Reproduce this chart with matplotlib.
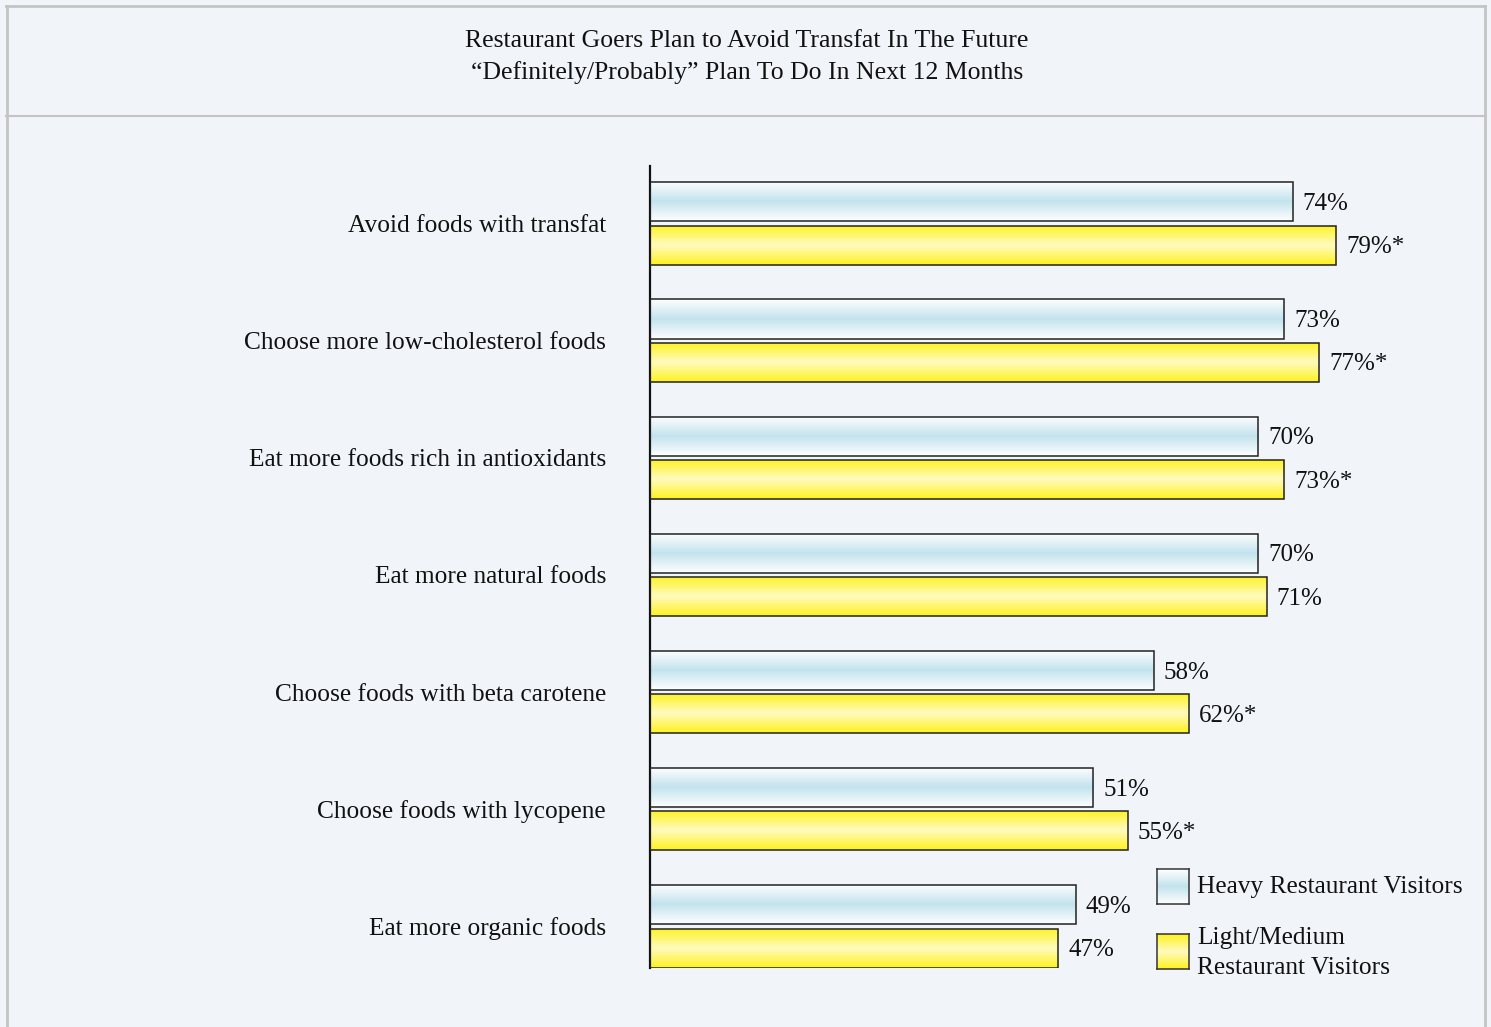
import matplotlib
matplotlib.use("Agg")
import matplotlib.pyplot as plt
import numpy as np
from matplotlib.colors import LinearSegmentedColormap
from matplotlib.lines import Line2D

categories = ["Avoid foods with transfat", "Choose more low-cholesterol foods",
              "Eat more foods rich in antioxidants", "Eat more natural foods",
              "Choose foods with beta carotene", "Choose foods with lycopene",
              "Eat more organic foods"]
heavy = [74, 73, 70, 70, 58, 51, 49]
light = [79, 77, 73, 71, 62, 55, 47]
heavy_labels = ["74%", "73%", "70%", "70%", "58%", "51%", "49%"]
light_labels = ["79%*", "77%*", "73%*", "71%", "62%*", "55%*", "47%"]
series_names = ["Heavy Restaurant Visitors", "Light/Medium\nRestaurant Visitors"]
title_lines = ["Restaurant Goers Plan to Avoid Transfat In The Future",
               "\u201cDefinitely/Probably\u201d Plan To Do In Next 12 Months"]

FONT = "Liberation Serif"
BG = "#f1f4f9"
W, H = 1491, 1027
fig = plt.figure(figsize=(W / 100, H / 100), dpi=100)
fig.patch.set_facecolor(BG)

# frame
grey = "#c4c4c4"
fig.add_artist(Line2D([6.5 / W, 6.5 / W], [0, 1 - 6 / H], color=grey, lw=2, transform=fig.transFigure))
fig.add_artist(Line2D([1484.5 / W, 1484.5 / W], [0, 1 - 6 / H], color=grey, lw=2, transform=fig.transFigure))
fig.add_artist(Line2D([6 / W, 1485 / W], [1 - 6 / H, 1 - 6 / H], color=grey, lw=2, transform=fig.transFigure))
fig.add_artist(Line2D([6 / W, 1485 / W], [1 - 116 / H, 1 - 116 / H], color=grey, lw=1.5, transform=fig.transFigure))

for i, t in enumerate(title_lines):
    fig.text(747 / W, 1 - (41 + 32 * i) / H, t, ha="center", va="center",
             fontsize=18.5, family=FONT, color="#111111")

blue_cmap = LinearSegmentedColormap.from_list("b", ["#ffffff", "#c3e3ee", "#ffffff"])
yel_cmap = LinearSegmentedColormap.from_list("y", ["#fff21e", "#fffbc0", "#fff21e"])

ax = fig.add_axes([650 / W, 1 - 968 / H, 695 / W, 802 / H])
ax.set_facecolor("none")
y = np.arange(len(categories))
off = 0.185
bh = 0.333
grad = np.linspace(0, 1, 256).reshape(-1, 1)

def gbars(vals, ypos, cmap):
    bars = ax.barh(ypos, vals, height=bh, facecolor="none", edgecolor="#222222", lw=1.1, zorder=3)
    for b in bars:
        x0, y0, w, h = b.get_x(), b.get_y(), b.get_width(), b.get_height()
        im = ax.imshow(grad, cmap=cmap, aspect="auto", extent=(x0, x0 + w, y0 + h, y0),
                       zorder=2, interpolation="bilinear")
        im.set_clip_path(b)
    return bars

bh_bars = gbars(heavy, y - off, blue_cmap)
bl_bars = gbars(light, y + off, yel_cmap)
ax.set_xlim(0, 80)
ax.set_ylim(6 + 0.355, -0.491)

for bars, labs in ((bh_bars, heavy_labels), (bl_bars, light_labels)):
    for b, lab in zip(bars, labs):
        ax.annotate(lab, (b.get_width(), b.get_y() + b.get_height() / 2), xytext=(7.2, -1.5),
                    textcoords="offset points", va="center", ha="left", fontsize=18,
                    family=FONT, color="#111111")

ax.set_yticks(y)
ax.set_yticklabels(categories, fontsize=18.3, family=FONT, color="#111111")
ax.tick_params(axis="y", length=0, pad=31.7)
ax.set_xticks([])
for s in ["top", "right", "bottom"]:
    ax.spines[s].set_visible(False)
ax.spines["left"].set_linewidth(1.6)
ax.spines["left"].set_color("#111111")

# legend
leg_items = [(869, blue_cmap, series_names[0], 887), (934, yel_cmap, series_names[1], 953)]
for top, cmap, name, ty in leg_items:
    lax = fig.add_axes([1157 / W, 1 - (top + 35) / H, 32 / W, 35 / H])
    lax.imshow(grad, cmap=cmap, aspect="auto", extent=(0, 1, 1, 0), interpolation="bilinear")
    lax.set_xticks([]); lax.set_yticks([])
    for s in lax.spines.values():
        s.set_color("#333333"); s.set_linewidth(1.1)
    fig.text(1197 / W, 1 - ty / H, name, ha="left", va="center",
             fontsize=18.3, family=FONT, color="#111111", linespacing=1.48)

fig.savefig("out.png", dpi=100, facecolor=BG)
